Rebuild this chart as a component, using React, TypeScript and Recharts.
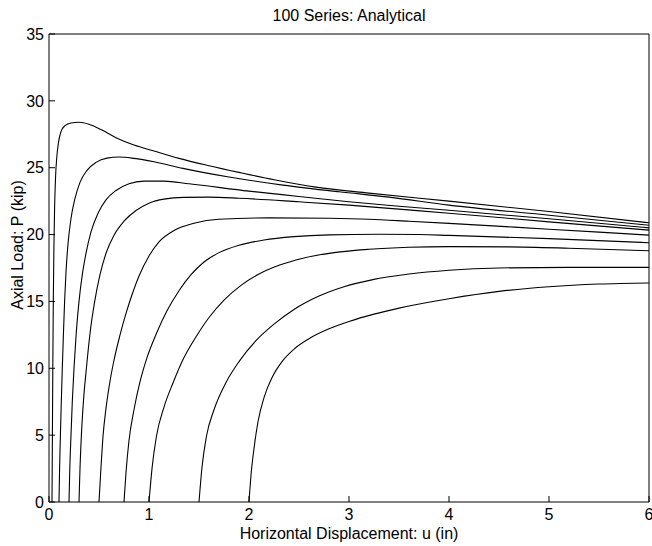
import React from "react";
import { LineChart, Line, XAxis, YAxis } from "recharts";

type Pt = { u: number; p: number };
const pts = (rows: number[][]): Pt[] => rows.map(([u, p]) => ({ u, p }));

// load-displacement curves, one per initial offset
const curve000 = pts([
  [0.03, 0], [0.034, 5], [0.038, 10], [0.043, 15], [0.049, 19], [0.056, 22],
  [0.065, 24.2], [0.078, 25.8], [0.095, 26.9], [0.12, 27.7], [0.16, 28.15],
  [0.22, 28.35], [0.3, 28.4], [0.4, 28.25], [0.52, 27.85], [0.67, 27.25],
  [0.85, 26.7], [1.05, 26.25], [1.3, 25.7], [1.6, 25.15], [1.9, 24.65],
  [2.25, 24.1], [2.67, 23.55], [3.2, 23.1], [4.0, 22.5], [5.0, 21.72],
  [6.0, 20.88],
]);
const curve010 = pts([
  [0.1, 0], [0.106, 2.5], [0.114, 5], [0.123, 7.5], [0.133, 10], [0.144, 12.5],
  [0.156, 15], [0.17, 17.2], [0.19, 19.3], [0.22, 21.2], [0.26, 22.7],
  [0.31, 23.9], [0.38, 24.8], [0.47, 25.4], [0.58, 25.72], [0.7, 25.8],
  [0.85, 25.7], [1.05, 25.45], [1.34, 24.95], [1.8, 24.3], [2.34, 23.7],
  [2.9, 23.2], [3.4, 22.8], [4.0, 22.2], [5.0, 21.45], [6.0, 20.7],
]);
const curve020 = pts([
  [0.2, 0], [0.208, 2.5], [0.22, 5], [0.233, 7.5], [0.25, 10], [0.272, 12.6],
  [0.3, 15], [0.333, 17.0], [0.37, 18.6], [0.42, 20.2], [0.49, 21.6],
  [0.57, 22.6], [0.67, 23.3], [0.8, 23.8], [0.95, 24.0], [1.15, 24.0],
  [1.4, 23.8], [2.0, 23.25], [2.5, 22.85], [3.0, 22.45], [3.5, 22.12],
  [4.0, 21.82], [5.0, 21.18], [6.0, 20.5],
]);
const curve030 = pts([
  [0.3, 0], [0.31, 2.5], [0.324, 5], [0.345, 7.6], [0.374, 10], [0.41, 12.6],
  [0.457, 15], [0.51, 17.0], [0.57, 18.6], [0.65, 19.95], [0.75, 21.0],
  [0.87, 21.8], [1.0, 22.35], [1.15, 22.65], [1.35, 22.78], [1.6, 22.8],
  [1.9, 22.72], [2.5, 22.45], [3.0, 22.2], [3.5, 21.9], [4.0, 21.6],
  [5.0, 20.95], [6.0, 20.33],
]);
const curve050 = pts([
  [0.5, 0], [0.52, 2.6], [0.54, 4.9], [0.57, 7.0], [0.607, 8.9], [0.65, 10.6],
  [0.707, 12.4], [0.77, 14.1], [0.83, 15.5], [0.9, 16.9], [1.0, 18.4],
  [1.1, 19.45], [1.25, 20.3], [1.45, 20.85], [1.7, 21.15], [2.2, 21.25],
  [2.8, 21.22], [3.2, 21.15], [3.6, 21.0], [4.0, 20.84], [5.0, 20.4],
  [6.0, 19.96],
]);
const curve075 = pts([
  [0.75, 0], [0.77, 2.2], [0.8, 4.6], [0.85, 6.9], [0.907, 8.9], [0.98, 10.8],
  [1.074, 12.6], [1.18, 14.3], [1.3, 15.8], [1.42, 17.0], [1.55, 17.95],
  [1.7, 18.65], [1.9, 19.2], [2.15, 19.6], [2.45, 19.85], [2.8, 19.98],
  [3.3, 20.02], [3.7, 20.0], [4.0, 19.94], [5.0, 19.7], [6.0, 19.39],
]);
const curve100 = pts([
  [1.0, 0], [1.03, 2.5], [1.074, 4.9], [1.15, 7.1], [1.24, 8.9], [1.35, 10.8],
  [1.474, 12.4], [1.6, 13.8], [1.75, 15.1], [1.92, 16.2], [2.1, 17.05],
  [2.3, 17.7], [2.55, 18.25], [2.85, 18.65], [3.2, 18.9], [3.6, 19.05],
  [4.0, 19.1], [4.6, 19.08], [5.2, 18.98], [6.0, 18.79],
]);
const curve150 = pts([
  [1.5, 0], [1.53, 2.6], [1.574, 4.9], [1.65, 6.9], [1.774, 9.0], [1.9, 10.5],
  [2.074, 12.1], [2.25, 13.3], [2.45, 14.4], [2.7, 15.4], [2.95, 16.1],
  [3.25, 16.65], [3.6, 17.05], [4.0, 17.33], [4.5, 17.5], [5.2, 17.55],
  [6.0, 17.55],
]);
const curve200 = pts([
  [2.0, 0], [2.02, 2], [2.05, 4], [2.09, 6], [2.15, 7.8], [2.23, 9.3],
  [2.33, 10.5], [2.46, 11.5], [2.62, 12.3], [2.8, 12.95], [3.0, 13.5],
  [3.25, 14.05], [3.5, 14.5], [4.0, 15.2], [4.5, 15.75], [5.0, 16.1],
  [5.5, 16.3], [6.0, 16.38],
]);

const curves = [
  curve000, curve010, curve020, curve030, curve050,
  curve075, curve100, curve150, curve200,
];

const xTicks = [0, 1, 2, 3, 4, 5, 6];
const yTicks = [0, 5, 10, 15, 20, 25, 30, 35];

const FONT = '"Liberation Sans", Arial, Helvetica, sans-serif';
const tickStyle = { fontSize: 16, fill: "#000", fontFamily: FONT };

function Title() {
  return (
    <text x={349} y={21} textAnchor="middle" fontSize={16} fontFamily={FONT} fill="#000">
      100 Series: Analytical
    </text>
  );
}

function XLabel() {
  return (
    <text x={349} y={539} textAnchor="middle" fontSize={16} fontFamily={FONT} fill="#000">
      Horizontal Displacement: u (in)
    </text>
  );
}

function YLabel() {
  return (
    <text
      x={17}
      y={245}
      transform="rotate(-90 17 245)"
      textAnchor="middle"
      dominantBaseline="central"
      fontSize={16}
      fontFamily={FONT}
      fill="#000"
    >
      Axial Load: P (kip)
    </text>
  );
}

export default function App() {
  return (
    <div style={{ position: "absolute", left: 0, top: 0, background: "#fff" }}>
      <LineChart
        width={652}
        height={546}
        margin={{ top: 33, right: 0, bottom: 0, left: 0 }}
      >
        <XAxis
          dataKey="u"
          type="number"
          domain={[0, 6]}
          ticks={xTicks}
          interval={0}
          height={44}
          tickSize={-6}
          tickMargin={13}
          tick={tickStyle}
          stroke="#000"
          allowDataOverflow
          label={<XLabel />}
        />
        <XAxis
          xAxisId="top"
          orientation="top"
          dataKey="u"
          type="number"
          domain={[0, 6]}
          ticks={xTicks}
          interval={0}
          height={1}
          tickSize={-6}
          tick={false}
          stroke="#000"
          allowDataOverflow
          label={<Title />}
        />
        <YAxis
          type="number"
          domain={[0, 35]}
          ticks={yTicks}
          interval={0}
          width={49}
          tickSize={-6}
          tickMargin={11}
          tick={tickStyle}
          stroke="#000"
          allowDataOverflow
          label={<YLabel />}
        />
        <YAxis
          yAxisId="right"
          orientation="right"
          type="number"
          domain={[0, 35]}
          ticks={yTicks}
          interval={0}
          width={3}
          tickSize={-6}
          tick={false}
          stroke="#000"
          allowDataOverflow
        />
        {curves.map((c, i) => (
          <Line
            key={i}
            data={c}
            dataKey="p"
            type="monotone"
            stroke="#000"
            strokeWidth={1.1}
            dot={false}
            activeDot={false}
            isAnimationActive={false}
          />
        ))}
      </LineChart>
    </div>
  );
}
